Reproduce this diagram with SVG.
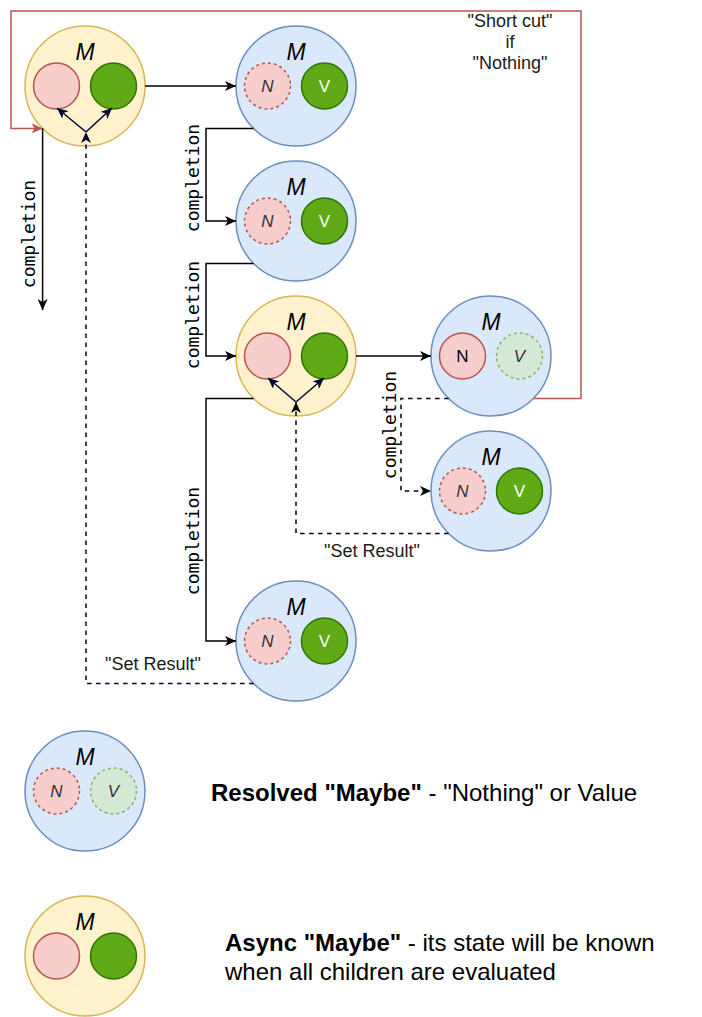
<svg xmlns="http://www.w3.org/2000/svg" width="702" height="1017" viewBox="0 0 702 1017">
<style>
.yel{fill:#fff2cc;stroke:#d6b656;stroke-width:1.5}
.blu{fill:#dae8fc;stroke:#6c8ebf;stroke-width:1.5}
.red{fill:#f8cecc;stroke:#b85450;stroke-width:1.5}
.redd{fill:#f8cecc;stroke:#b85450;stroke-width:1.5;stroke-dasharray:3 3}
.grn{fill:#60a917;stroke:#2d7600;stroke-width:1.5}
.grnd{fill:#d5e8d4;stroke:#82b366;stroke-width:1.5;stroke-dasharray:3 3}
.m{font-family:"Liberation Sans",Arial,sans-serif;font-style:italic;font-size:23px;text-anchor:middle;fill:#000}
.in{font-family:"Liberation Sans",Arial,sans-serif;font-size:17px;text-anchor:middle;fill:#000}
.it{font-style:italic;fill:#333}
.w{fill:#fff}
.e{fill:none;stroke:#000;stroke-width:1.5}
.nv{fill:none;stroke:#000033;stroke-width:1.5}
.dash{stroke-dasharray:4.5 4.5}
.rl{fill:none;stroke:#b85450;stroke-width:1.5}
.lbl{font-family:"Liberation Sans",Arial,sans-serif;font-size:18px;text-anchor:middle;fill:#1a1a1a}
.mono{font-family:"DejaVu Sans Mono","Liberation Mono",monospace;font-size:18px;text-anchor:middle;fill:#000}
.leg{font-family:"Liberation Sans",Arial,sans-serif;font-size:24px;fill:#000}
.b{font-weight:bold}
</style>
<defs>
<marker id="ab" markerUnits="userSpaceOnUse" markerWidth="12" markerHeight="10" refX="11" refY="5" orient="auto"><path d="M0,0 L11,5 L0,10 L3,5 z" fill="#000"/></marker>
<marker id="an" markerUnits="userSpaceOnUse" markerWidth="12" markerHeight="10" refX="11" refY="5" orient="auto"><path d="M0,0 L11,5 L0,10 L3,5 z" fill="#000033"/></marker>
<marker id="ar" markerUnits="userSpaceOnUse" markerWidth="12" markerHeight="10" refX="11" refY="5" orient="auto"><path d="M0,0 L11,5 L0,10 L3,5 z" fill="#b85450"/></marker>
</defs>

<g id="n1">
<circle class="yel" cx="85" cy="86" r="60"/>
<text class="m" x="85" y="60">M</text>
<circle class="red" cx="56.5" cy="86" r="23"/>
<circle class="grn" cx="113.5" cy="86" r="23"/>
</g>
<g id="n2">
<circle class="blu" cx="296" cy="86" r="60"/>
<text class="m" x="296" y="60">M</text>
<circle class="redd" cx="267.5" cy="86" r="23"/>
<text class="in it" x="267.5" y="92">N</text>
<circle class="grn" cx="324.5" cy="86" r="23"/>
<text class="in w" x="324.5" y="92">V</text>
</g>
<g id="n3">
<circle class="blu" cx="296" cy="221" r="60"/>
<text class="m" x="296" y="195">M</text>
<circle class="redd" cx="267.5" cy="221" r="23"/>
<text class="in it" x="267.5" y="227">N</text>
<circle class="grn" cx="324.5" cy="221" r="23"/>
<text class="in w" x="324.5" y="227">V</text>
</g>
<g id="n4">
<circle class="yel" cx="296" cy="356" r="60"/>
<text class="m" x="296" y="330">M</text>
<circle class="red" cx="267.5" cy="356" r="23"/>
<circle class="grn" cx="324.5" cy="356" r="23"/>
</g>
<g id="n5">
<circle class="blu" cx="491" cy="356" r="60"/>
<text class="m" x="491" y="330">M</text>
<circle class="red" cx="462.5" cy="356" r="23"/>
<text class="in" x="462.5" y="362">N</text>
<circle class="grnd" cx="519.5" cy="356" r="23"/>
<text class="in it" x="519.5" y="362">V</text>
</g>
<g id="n6">
<circle class="blu" cx="491" cy="491" r="60"/>
<text class="m" x="491" y="465">M</text>
<circle class="redd" cx="462.5" cy="491" r="23"/>
<text class="in it" x="462.5" y="497">N</text>
<circle class="grn" cx="519.5" cy="491" r="23"/>
<text class="in w" x="519.5" y="497">V</text>
</g>
<g id="n7">
<circle class="blu" cx="296" cy="641" r="60"/>
<text class="m" x="296" y="615">M</text>
<circle class="redd" cx="267.5" cy="641" r="23"/>
<text class="in it" x="267.5" y="647">N</text>
<circle class="grn" cx="324.5" cy="641" r="23"/>
<text class="in w" x="324.5" y="647">V</text>
</g>

<g id="connectors">
<path class="rl" d="M533.4,398.4 H581 V11 H11 V128.4 H42.6" marker-end="url(#ar)"/>
<path class="e" d="M42.6,128.4 V310" marker-end="url(#ab)"/>
<path class="e" d="M145,86 H236" marker-end="url(#ab)"/>
<path class="e" d="M253.6,128.4 H206 V221 H236" marker-end="url(#ab)"/>
<path class="e" d="M253.6,263.4 H206 V356 H236" marker-end="url(#ab)"/>
<path class="e" d="M356,356 H431" marker-end="url(#ab)"/>
<path class="e" d="M253.6,398.4 H206 V641 H236" marker-end="url(#ab)"/>
<path class="e dash" d="M448.6,398.4 H401 V491 H431" marker-end="url(#ab)"/>
<path class="e dash" d="M448.6,533.4 H296 V402" marker-end="url(#ab)"/>
<path class="nv dash" d="M253.6,683.4 H86 V132" marker-end="url(#an)"/>
<path class="nv" d="M86,132 L57,108" marker-end="url(#an)"/>
<path class="nv" d="M86,132 L112,108" marker-end="url(#an)"/>
<path class="nv" d="M296,402 L268,378" marker-end="url(#an)"/>
<path class="nv" d="M296,402 L324,378" marker-end="url(#an)"/>
<text class="mono" transform="translate(35,234) rotate(-90)">completion</text>
<text class="mono" transform="translate(199,178) rotate(-90)">completion</text>
<text class="mono" transform="translate(199,315) rotate(-90)">completion</text>
<text class="mono" transform="translate(199,541) rotate(-90)">completion</text>
<text class="mono" transform="translate(396,425) rotate(-90)">completion</text>
<text class="lbl" x="153" y="670">"Set Result"</text>
<text class="lbl" x="372" y="557">"Set Result"</text>
<text class="lbl" x="510" y="27">"Short cut"</text>
<text class="lbl" x="510" y="48">if</text>
<text class="lbl" x="510" y="69">"Nothing"</text>
</g>

<g id="legend-resolved">
<circle class="blu" cx="85" cy="791" r="60"/>
<text class="m" x="85" y="765">M</text>
<circle class="redd" cx="56.5" cy="791" r="23"/>
<text class="in it" x="56.5" y="797">N</text>
<circle class="grnd" cx="113.5" cy="791" r="23"/>
<text class="in it" x="113.5" y="797">V</text>
<text class="leg" x="211" y="801"><tspan class="b">Resolved "Maybe"</tspan> - "Nothing" or Value</text>
</g>
<g id="legend-async">
<circle class="yel" cx="85" cy="956" r="60"/>
<text class="m" x="85" y="930">M</text>
<circle class="red" cx="56.5" cy="956" r="23"/>
<circle class="grn" cx="113.5" cy="956" r="23"/>
<text class="leg" x="225" y="951"><tspan class="b">Async "Maybe"</tspan> - its state will be known</text>
<text class="leg" x="225" y="980">when all children are evaluated</text>
</g>
</svg>
